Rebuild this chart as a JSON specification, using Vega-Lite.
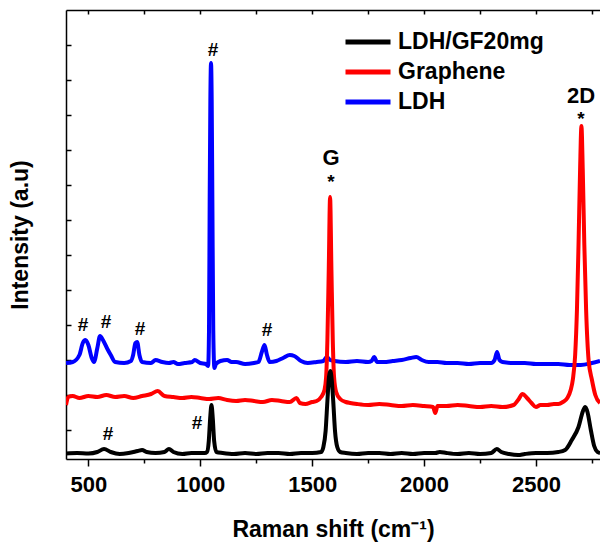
{
  "$schema": "https://vega.github.io/schema/vega-lite/v6.json",
  "width": 534,
  "height": 449,
  "autosize": {"type": "none"},
  "padding": {"left": 66, "top": 10, "right": 0, "bottom": 83},
  "background": "white",
  "config": {"view": {"stroke": null}, "font": "Liberation Sans"},
  "datasets": {
    "spectra": [
      {"s":"LDH","x":400,"y":96},{"s":"LDH","x":430,"y":97},{"s":"LDH","x":460,"y":104},{"s":"LDH","x":475,"y":116},{"s":"LDH","x":487,"y":119},{"s":"LDH","x":500,"y":114},{"s":"LDH","x":515,"y":101},{"s":"LDH","x":525,"y":97},{"s":"LDH","x":540,"y":111},{"s":"LDH","x":552,"y":123},{"s":"LDH","x":565,"y":119},{"s":"LDH","x":585,"y":110},{"s":"LDH","x":600,"y":104},{"s":"LDH","x":620,"y":97},{"s":"LDH","x":660,"y":96},{"s":"LDH","x":690,"y":98},{"s":"LDH","x":700,"y":104},{"s":"LDH","x":710,"y":116},{"s":"LDH","x":718,"y":117},{"s":"LDH","x":728,"y":104},{"s":"LDH","x":740,"y":97},{"s":"LDH","x":780,"y":96},{"s":"LDH","x":800,"y":99},{"s":"LDH","x":830,"y":97},{"s":"LDH","x":860,"y":96},{"s":"LDH","x":880,"y":97},{"s":"LDH","x":900,"y":95},{"s":"LDH","x":930,"y":96},{"s":"LDH","x":964,"y":97},{"s":"LDH","x":975,"y":99},{"s":"LDH","x":1000,"y":96},{"s":"LDH","x":1025,"y":95},{"s":"LDH","x":1035,"y":93},{"s":"LDH","x":1039,"y":129},{"s":"LDH","x":1042,"y":259},{"s":"LDH","x":1045,"y":359},{"s":"LDH","x":1048,"y":396},{"s":"LDH","x":1051,"y":359},{"s":"LDH","x":1054,"y":259},{"s":"LDH","x":1058,"y":129},{"s":"LDH","x":1063,"y":91},{"s":"LDH","x":1070,"y":95},{"s":"LDH","x":1090,"y":98},{"s":"LDH","x":1120,"y":99},{"s":"LDH","x":1140,"y":97},{"s":"LDH","x":1160,"y":97},{"s":"LDH","x":1200,"y":95},{"s":"LDH","x":1240,"y":96},{"s":"LDH","x":1260,"y":97},{"s":"LDH","x":1275,"y":107},{"s":"LDH","x":1287,"y":114},{"s":"LDH","x":1298,"y":104},{"s":"LDH","x":1310,"y":97},{"s":"LDH","x":1340,"y":98},{"s":"LDH","x":1370,"y":101},{"s":"LDH","x":1400,"y":104},{"s":"LDH","x":1420,"y":103},{"s":"LDH","x":1450,"y":98},{"s":"LDH","x":1480,"y":96},{"s":"LDH","x":1520,"y":97},{"s":"LDH","x":1550,"y":98},{"s":"LDH","x":1565,"y":102},{"s":"LDH","x":1580,"y":99},{"s":"LDH","x":1600,"y":98},{"s":"LDH","x":1650,"y":97},{"s":"LDH","x":1700,"y":98},{"s":"LDH","x":1750,"y":97},{"s":"LDH","x":1765,"y":98},{"s":"LDH","x":1777,"y":102},{"s":"LDH","x":1790,"y":97},{"s":"LDH","x":1820,"y":97},{"s":"LDH","x":1860,"y":98},{"s":"LDH","x":1900,"y":99},{"s":"LDH","x":1940,"y":101},{"s":"LDH","x":1965,"y":102},{"s":"LDH","x":1990,"y":99},{"s":"LDH","x":2020,"y":97},{"s":"LDH","x":2060,"y":97},{"s":"LDH","x":2100,"y":96},{"s":"LDH","x":2150,"y":96},{"s":"LDH","x":2200,"y":95},{"s":"LDH","x":2250,"y":96},{"s":"LDH","x":2300,"y":96},{"s":"LDH","x":2315,"y":99},{"s":"LDH","x":2326,"y":107},{"s":"LDH","x":2337,"y":99},{"s":"LDH","x":2350,"y":97},{"s":"LDH","x":2400,"y":96},{"s":"LDH","x":2450,"y":96},{"s":"LDH","x":2500,"y":95},{"s":"LDH","x":2550,"y":95},{"s":"LDH","x":2600,"y":95},{"s":"LDH","x":2650,"y":94},{"s":"LDH","x":2700,"y":94},{"s":"LDH","x":2750,"y":96},{"s":"LDH","x":2786,"y":98},

      {"s":"Graphene","x":400,"y":54},{"s":"Graphene","x":410,"y":62},{"s":"Graphene","x":430,"y":63},{"s":"Graphene","x":460,"y":61},{"s":"Graphene","x":500,"y":63},{"s":"Graphene","x":540,"y":62},{"s":"Graphene","x":580,"y":64},{"s":"Graphene","x":620,"y":62},{"s":"Graphene","x":660,"y":63},{"s":"Graphene","x":700,"y":61},{"s":"Graphene","x":740,"y":63},{"s":"Graphene","x":780,"y":65},{"s":"Graphene","x":810,"y":68},{"s":"Graphene","x":840,"y":63},{"s":"Graphene","x":880,"y":62},{"s":"Graphene","x":920,"y":61},{"s":"Graphene","x":960,"y":62},{"s":"Graphene","x":1000,"y":61},{"s":"Graphene","x":1040,"y":60},{"s":"Graphene","x":1080,"y":61},{"s":"Graphene","x":1120,"y":59},{"s":"Graphene","x":1160,"y":58},{"s":"Graphene","x":1200,"y":59},{"s":"Graphene","x":1240,"y":58},{"s":"Graphene","x":1280,"y":57},{"s":"Graphene","x":1320,"y":59},{"s":"Graphene","x":1360,"y":58},{"s":"Graphene","x":1400,"y":57},{"s":"Graphene","x":1430,"y":61},{"s":"Graphene","x":1445,"y":56},{"s":"Graphene","x":1470,"y":55},{"s":"Graphene","x":1500,"y":57},{"s":"Graphene","x":1520,"y":58},{"s":"Graphene","x":1540,"y":62},{"s":"Graphene","x":1555,"y":69},{"s":"Graphene","x":1562,"y":81},{"s":"Graphene","x":1568,"y":119},{"s":"Graphene","x":1574,"y":189},{"s":"Graphene","x":1580,"y":262},{"s":"Graphene","x":1586,"y":189},{"s":"Graphene","x":1592,"y":119},{"s":"Graphene","x":1598,"y":81},{"s":"Graphene","x":1607,"y":67},{"s":"Graphene","x":1625,"y":60},{"s":"Graphene","x":1650,"y":57},{"s":"Graphene","x":1670,"y":56},{"s":"Graphene","x":1700,"y":55},{"s":"Graphene","x":1750,"y":54},{"s":"Graphene","x":1800,"y":55},{"s":"Graphene","x":1850,"y":54},{"s":"Graphene","x":1900,"y":53},{"s":"Graphene","x":1950,"y":54},{"s":"Graphene","x":2000,"y":53},{"s":"Graphene","x":2040,"y":52},{"s":"Graphene","x":2050,"y":46},{"s":"Graphene","x":2060,"y":53},{"s":"Graphene","x":2100,"y":53},{"s":"Graphene","x":2150,"y":54},{"s":"Graphene","x":2200,"y":53},{"s":"Graphene","x":2250,"y":52},{"s":"Graphene","x":2300,"y":53},{"s":"Graphene","x":2350,"y":52},{"s":"Graphene","x":2400,"y":54},{"s":"Graphene","x":2420,"y":59},{"s":"Graphene","x":2440,"y":65},{"s":"Graphene","x":2460,"y":61},{"s":"Graphene","x":2480,"y":56},{"s":"Graphene","x":2500,"y":52},{"s":"Graphene","x":2520,"y":54},{"s":"Graphene","x":2550,"y":54},{"s":"Graphene","x":2580,"y":55},{"s":"Graphene","x":2600,"y":55},{"s":"Graphene","x":2620,"y":57},{"s":"Graphene","x":2640,"y":61},{"s":"Graphene","x":2655,"y":69},{"s":"Graphene","x":2665,"y":80},{"s":"Graphene","x":2675,"y":104},{"s":"Graphene","x":2683,"y":149},{"s":"Graphene","x":2690,"y":214},{"s":"Graphene","x":2697,"y":289},{"s":"Graphene","x":2703,"y":333},{"s":"Graphene","x":2709,"y":289},{"s":"Graphene","x":2716,"y":214},{"s":"Graphene","x":2724,"y":149},{"s":"Graphene","x":2735,"y":99},{"s":"Graphene","x":2750,"y":79},{"s":"Graphene","x":2765,"y":64},{"s":"Graphene","x":2786,"y":56},

      {"s":"LDH/GF20mg","x":400,"y":5.5},{"s":"LDH/GF20mg","x":450,"y":6},{"s":"LDH/GF20mg","x":500,"y":5.5},{"s":"LDH/GF20mg","x":540,"y":7},{"s":"LDH/GF20mg","x":570,"y":10},{"s":"LDH/GF20mg","x":600,"y":7},{"s":"LDH/GF20mg","x":640,"y":5},{"s":"LDH/GF20mg","x":680,"y":6},{"s":"LDH/GF20mg","x":720,"y":8},{"s":"LDH/GF20mg","x":740,"y":9},{"s":"LDH/GF20mg","x":760,"y":7},{"s":"LDH/GF20mg","x":800,"y":6},{"s":"LDH/GF20mg","x":840,"y":7},{"s":"LDH/GF20mg","x":860,"y":10},{"s":"LDH/GF20mg","x":880,"y":7},{"s":"LDH/GF20mg","x":920,"y":5},{"s":"LDH/GF20mg","x":960,"y":6},{"s":"LDH/GF20mg","x":1000,"y":6},{"s":"LDH/GF20mg","x":1020,"y":6},{"s":"LDH/GF20mg","x":1030,"y":7},{"s":"LDH/GF20mg","x":1038,"y":18},{"s":"LDH/GF20mg","x":1044,"y":40},{"s":"LDH/GF20mg","x":1050,"y":54},{"s":"LDH/GF20mg","x":1056,"y":40},{"s":"LDH/GF20mg","x":1062,"y":18},{"s":"LDH/GF20mg","x":1072,"y":7},{"s":"LDH/GF20mg","x":1100,"y":6},{"s":"LDH/GF20mg","x":1150,"y":5},{"s":"LDH/GF20mg","x":1200,"y":6},{"s":"LDH/GF20mg","x":1250,"y":5},{"s":"LDH/GF20mg","x":1300,"y":6},{"s":"LDH/GF20mg","x":1350,"y":6},{"s":"LDH/GF20mg","x":1400,"y":5},{"s":"LDH/GF20mg","x":1450,"y":6},{"s":"LDH/GF20mg","x":1500,"y":6},{"s":"LDH/GF20mg","x":1540,"y":7},{"s":"LDH/GF20mg","x":1550,"y":12},{"s":"LDH/GF20mg","x":1560,"y":28},{"s":"LDH/GF20mg","x":1568,"y":58},{"s":"LDH/GF20mg","x":1575,"y":82},{"s":"LDH/GF20mg","x":1581,"y":88},{"s":"LDH/GF20mg","x":1587,"y":80},{"s":"LDH/GF20mg","x":1594,"y":58},{"s":"LDH/GF20mg","x":1602,"y":28},{"s":"LDH/GF20mg","x":1612,"y":12},{"s":"LDH/GF20mg","x":1625,"y":7},{"s":"LDH/GF20mg","x":1650,"y":6},{"s":"LDH/GF20mg","x":1700,"y":5},{"s":"LDH/GF20mg","x":1750,"y":6},{"s":"LDH/GF20mg","x":1800,"y":6},{"s":"LDH/GF20mg","x":1850,"y":5},{"s":"LDH/GF20mg","x":1900,"y":6},{"s":"LDH/GF20mg","x":1950,"y":5},{"s":"LDH/GF20mg","x":2000,"y":6},{"s":"LDH/GF20mg","x":2050,"y":6},{"s":"LDH/GF20mg","x":2070,"y":7},{"s":"LDH/GF20mg","x":2100,"y":6},{"s":"LDH/GF20mg","x":2150,"y":5},{"s":"LDH/GF20mg","x":2200,"y":6},{"s":"LDH/GF20mg","x":2250,"y":5},{"s":"LDH/GF20mg","x":2300,"y":6},{"s":"LDH/GF20mg","x":2325,"y":10},{"s":"LDH/GF20mg","x":2345,"y":7},{"s":"LDH/GF20mg","x":2380,"y":5},{"s":"LDH/GF20mg","x":2420,"y":4},{"s":"LDH/GF20mg","x":2450,"y":5},{"s":"LDH/GF20mg","x":2500,"y":6},{"s":"LDH/GF20mg","x":2550,"y":6},{"s":"LDH/GF20mg","x":2600,"y":7},{"s":"LDH/GF20mg","x":2630,"y":9},{"s":"LDH/GF20mg","x":2660,"y":19},{"s":"LDH/GF20mg","x":2690,"y":32},{"s":"LDH/GF20mg","x":2710,"y":48},{"s":"LDH/GF20mg","x":2720,"y":52},{"s":"LDH/GF20mg","x":2730,"y":47},{"s":"LDH/GF20mg","x":2745,"y":29},{"s":"LDH/GF20mg","x":2760,"y":13},{"s":"LDH/GF20mg","x":2775,"y":7},{"s":"LDH/GF20mg","x":2786,"y":6}
    ],
    "notes": [
      {"t":"#","x":476,"y":134},{"t":"#","x":579,"y":137},{"t":"#","x":731,"y":130},{"t":"#","x":1298,"y":129},{"t":"#","x":1057,"y":409},{"t":"#","x":588,"y":25},{"t":"#","x":985,"y":36},
      {"t":"*","x":1584,"y":277},{"t":"*","x":2701,"y":340},
      {"t":"G","x":1584,"y":301},{"t":"2D","x":2701,"y":363}
    ]
  },
  "resolve": {"axis": {"x": "independent", "y": "independent"}},
  "layer": [
    {
      "data": {"name": "spectra"},
      "transform": [{"filter": "datum.s === 'LDH'"}],
      "mark": {"type": "line", "strokeWidth": 4, "clip": true, "interpolate": "monotone"},
      "encoding": {
        "x": {"field": "x", "type": "quantitative",
          "scale": {"domain": [400, 2786], "nice": false, "zero": false},
          "axis": {"orient": "bottom", "values": [500,750,1000,1250,1500,1750,2000,2250,2500,2750],
            "labelExpr": "datum.value % 500 === 0 ? datum.label : ''", "format": "d",
            "tickSize": {"condition": {"test": "datum.value % 500 === 0", "value": 7}, "value": 4},
            "tickColor": "black", "tickWidth": 1.5, "domainColor": "black", "domainWidth": 1.5,
            "labelFont": "Liberation Sans", "labelFontSize": 22, "labelFontWeight": "bold", "labelColor": "black",
            "labelPadding": 8, "labelOverlap": false, "labelFlush": false, "grid": false,
            "title": "Raman shift (cm⁻¹)", "titleFont": "Liberation Sans", "titleFontSize": 23, "titleFontWeight": "bold",
            "titleColor": "black", "titlePadding": 23}},
        "y": {"field": "y", "type": "quantitative",
          "scale": {"domain": [0, 449], "nice": false, "zero": false},
          "axis": {"orient": "left", "values": [29,64,99,134,169,204,239,274,309,344,379,414],
            "labels": false, "tickSize": -5, "tickColor": "black", "tickWidth": 1.5,
            "domainColor": "black", "domainWidth": 1.5, "grid": false,
            "title": "Intensity (a.u)", "titleFont": "Liberation Sans", "titleFontSize": 23, "titleFontWeight": "bold",
            "titleColor": "black", "titlePadding": 33}},
        "color": {"field": "s", "type": "nominal",
          "scale": {"domain": ["LDH/GF20mg", "Graphene", "LDH"], "range": ["#000000", "#ff0000", "#0000ff"]},
          "legend": {"orient": "none", "legendX": 277, "legendY": 17, "title": null, "symbolType": "stroke",
            "symbolStrokeWidth": 5, "symbolSize": 2025, "labelFont": "Liberation Sans", "labelFontSize": 23,
            "labelFontWeight": "bold", "labelColor": "black", "labelOffset": 5, "rowPadding": 0, "clipHeight": 30, "padding": 0}}
      }
    },
    {
      "data": {"name": "spectra"},
      "transform": [{"filter": "datum.s === 'Graphene'"}],
      "mark": {"type": "line", "strokeWidth": 4, "clip": true, "interpolate": "monotone"},
      "encoding": {
        "x": {"field": "x", "type": "quantitative",
          "scale": {"domain": [400, 2786], "nice": false, "zero": false},
          "axis": {"orient": "top", "values": [500,750,1000,1250,1500,1750,2000,2250,2500,2750],
            "labels": false, "tickSize": -4, "tickColor": "black", "tickWidth": 1.5,
            "domainColor": "black", "domainWidth": 1.5, "grid": false, "title": null}},
        "y": {"field": "y", "type": "quantitative", "scale": {"domain": [0, 449], "nice": false, "zero": false}, "axis": null},
        "color": {"field": "s", "type": "nominal",
          "scale": {"domain": ["LDH/GF20mg", "Graphene", "LDH"], "range": ["#000000", "#ff0000", "#0000ff"]}}
      }
    },
    {
      "data": {"name": "spectra"},
      "transform": [{"filter": "datum.s === 'LDH/GF20mg'"}],
      "mark": {"type": "line", "strokeWidth": 4, "clip": true, "interpolate": "monotone"},
      "encoding": {
        "x": {"field": "x", "type": "quantitative", "scale": {"domain": [400, 2786], "nice": false, "zero": false}, "axis": null},
        "y": {"field": "y", "type": "quantitative", "scale": {"domain": [0, 449], "nice": false, "zero": false}, "axis": null},
        "color": {"field": "s", "type": "nominal",
          "scale": {"domain": ["LDH/GF20mg", "Graphene", "LDH"], "range": ["#000000", "#ff0000", "#0000ff"]}}
      }
    },
    {
      "data": {"name": "notes"},
      "transform": [{"filter": "datum.t === '#'"}],
      "mark": {"type": "text", "font": "Liberation Sans", "fontSize": 19, "fontWeight": "bold", "color": "black", "baseline": "middle", "align": "center"},
      "encoding": {
        "x": {"field": "x", "type": "quantitative", "scale": {"domain": [400, 2786], "nice": false, "zero": false}, "axis": null},
        "y": {"field": "y", "type": "quantitative", "scale": {"domain": [0, 449], "nice": false, "zero": false}, "axis": null},
        "text": {"field": "t"}
      }
    },
    {
      "data": {"name": "notes"},
      "transform": [{"filter": "datum.t === '*'"}],
      "mark": {"type": "text", "font": "Liberation Sans", "fontSize": 19, "fontWeight": "bold", "color": "black", "baseline": "middle", "align": "center"},
      "encoding": {
        "x": {"field": "x", "type": "quantitative", "scale": {"domain": [400, 2786], "nice": false, "zero": false}, "axis": null},
        "y": {"field": "y", "type": "quantitative", "scale": {"domain": [0, 449], "nice": false, "zero": false}, "axis": null},
        "text": {"field": "t"}
      }
    },
    {
      "data": {"name": "notes"},
      "transform": [{"filter": "datum.t === 'G' || datum.t === '2D'"}],
      "mark": {"type": "text", "font": "Liberation Sans", "fontSize": 22, "fontWeight": "bold", "color": "black", "baseline": "middle", "align": "center"},
      "encoding": {
        "x": {"field": "x", "type": "quantitative", "scale": {"domain": [400, 2786], "nice": false, "zero": false}, "axis": null},
        "y": {"field": "y", "type": "quantitative", "scale": {"domain": [0, 449], "nice": false, "zero": false}, "axis": null},
        "text": {"field": "t"}
      }
    }
  ]
}
